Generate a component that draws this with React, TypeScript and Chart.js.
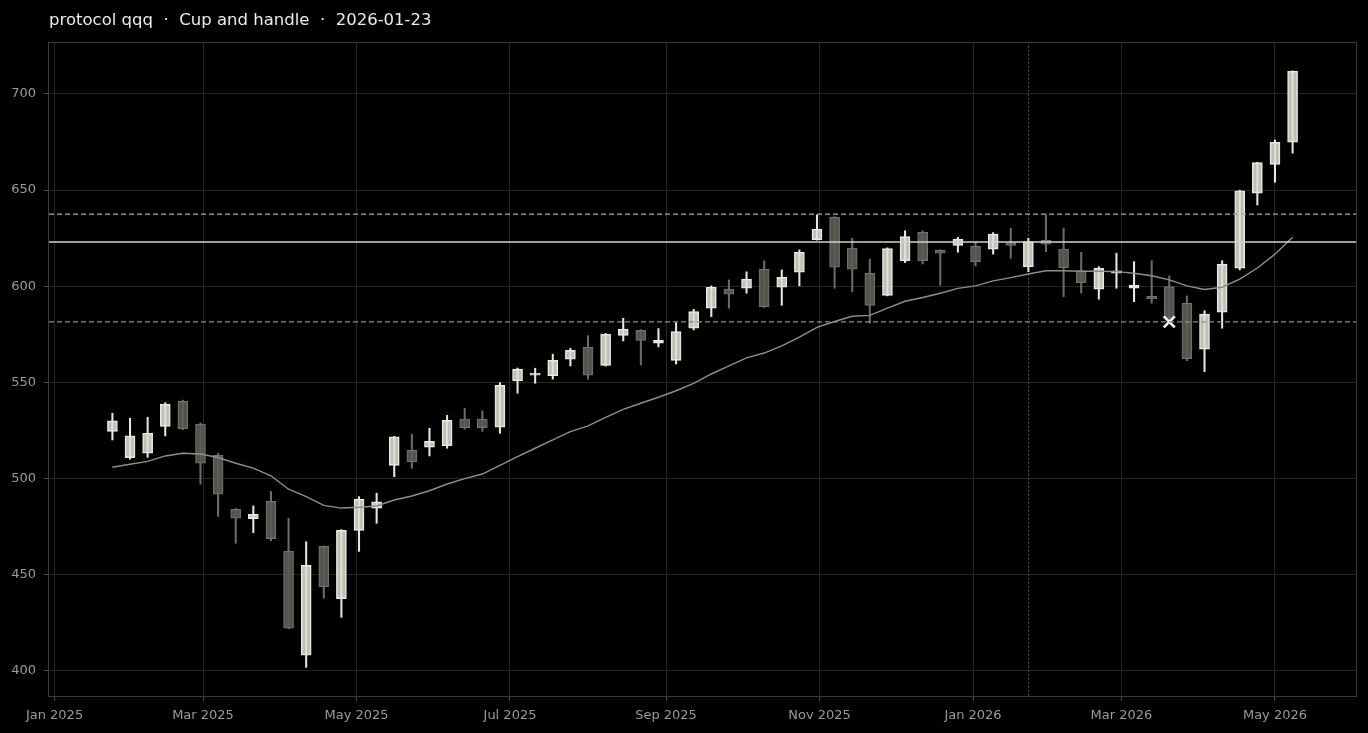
import { useEffect, useRef } from "react";
import { Chart, registerables } from "chart.js";

Chart.register(...registerables);

const title = "protocol qqq  ·  Cup and handle  ·  2026-01-23";

// weekly candles (Fridays)
const dates = [
  "2025-01-24", "2025-01-31", "2025-02-07", "2025-02-14", "2025-02-21", "2025-02-28",
  "2025-03-07", "2025-03-14", "2025-03-21", "2025-03-28", "2025-04-04", "2025-04-11",
  "2025-04-18", "2025-04-25", "2025-05-02", "2025-05-09", "2025-05-16", "2025-05-23",
  "2025-05-30", "2025-06-06", "2025-06-13", "2025-06-20", "2025-06-27", "2025-07-04",
  "2025-07-11", "2025-07-18", "2025-07-25", "2025-08-01", "2025-08-08", "2025-08-15",
  "2025-08-22", "2025-08-29", "2025-09-05", "2025-09-12", "2025-09-19", "2025-09-26",
  "2025-10-03", "2025-10-10", "2025-10-17", "2025-10-24", "2025-10-31", "2025-11-07",
  "2025-11-14", "2025-11-21", "2025-11-28", "2025-12-05", "2025-12-12", "2025-12-19",
  "2025-12-26", "2026-01-02", "2026-01-09", "2026-01-16", "2026-01-23", "2026-01-30",
  "2026-02-06", "2026-02-13", "2026-02-20", "2026-02-27", "2026-03-06", "2026-03-13",
  "2026-03-20", "2026-03-27", "2026-04-03", "2026-04-10", "2026-04-17", "2026-04-24",
  "2026-05-01", "2026-05-08",
];

const opens = [
  524.6, 510.9, 513.2, 527.2, 540.2, 528.4, 512.1, 484.1, 479.2, 488.2, 462.2, 408.2,
  464.8, 437.6, 473.1, 484.7, 506.9, 514.7, 516.3, 517.1, 530.9, 530.9, 526.7, 550.9,
  553.8, 553.5, 562.1, 568.3, 558.9, 574.5, 577.1, 570.4, 561.5, 578.2, 588.6, 598.5,
  599.0, 608.9, 599.5, 607.3, 624.2, 635.9, 619.8, 606.8, 595.3, 613.3, 628.1, 618.7,
  621.3, 620.8, 619.3, 622.7, 610.2, 623.9, 619.3, 608.1, 598.5, 606.8, 599.0, 594.8,
  599.8, 591.2, 567.3, 586.5, 609.4, 648.4, 663.4, 674.9,
];
const highs = [
  534.0, 531.4, 531.9, 539.5, 540.8, 529.0, 513.2, 484.5, 485.8, 493.4, 479.4, 467.2,
  465.0, 473.5, 490.6, 492.4, 522.0, 523.1, 526.2, 532.9, 536.6, 535.3, 549.9, 557.5,
  557.4, 564.7, 567.8, 574.3, 575.5, 583.4, 577.5, 578.0, 581.1, 588.0, 600.2, 603.3,
  607.5, 613.2, 608.5, 618.9, 637.1, 636.2, 625.0, 614.1, 620.0, 628.9, 628.9, 619.0,
  625.5, 622.7, 627.9, 630.2, 625.0, 637.1, 630.2, 617.7, 610.2, 617.2, 612.8, 613.3,
  605.4, 595.0, 587.3, 613.3, 650.0, 664.5, 676.1, 712.0,
];
const lows = [
  520.1, 510.1, 511.1, 522.2, 525.5, 497.1, 480.4, 466.4, 471.9, 467.7, 422.0, 401.9,
  437.8, 427.9, 462.2, 476.8, 501.0, 505.4, 511.8, 515.8, 525.7, 524.6, 523.6, 544.4,
  549.6, 551.7, 558.6, 551.7, 558.5, 571.6, 559.1, 568.5, 559.6, 577.3, 584.2, 588.6,
  596.4, 589.0, 590.1, 600.2, 624.0, 599.0, 597.2, 580.8, 595.0, 612.3, 611.6, 600.5,
  617.7, 610.6, 616.7, 614.6, 607.6, 618.0, 594.6, 596.4, 593.3, 599.0, 592.0, 591.2,
  581.5, 561.3, 555.6, 578.2, 608.5, 642.3, 654.1, 669.2,
];
const closes = [
  530.1, 522.3, 523.6, 538.7, 526.0, 508.0, 491.9, 479.4, 481.5, 468.8, 422.2, 454.9,
  443.8, 473.1, 489.3, 488.0, 521.8, 508.8, 519.4, 530.3, 526.5, 526.5, 548.5, 556.9,
  554.8, 561.5, 566.7, 553.8, 575.1, 577.7, 571.9, 571.9, 576.4, 586.8, 599.5, 595.9,
  603.7, 589.4, 604.7, 617.7, 629.7, 609.9, 608.9, 590.1, 619.6, 625.8, 613.3, 617.2,
  624.5, 612.8, 627.2, 621.3, 623.2, 621.9, 609.7, 601.9, 609.4, 608.0, 600.5, 593.6,
  583.4, 562.4, 585.5, 611.5, 649.6, 664.3, 674.9, 711.8,
];
const movingAvg = [
  505.9, 507.5, 509.0, 511.8, 513.2, 512.8, 511.0, 508.0, 505.5, 501.5, 494.5, 490.6,
  486.1, 484.7, 485.1, 485.8, 488.9, 491.0, 493.7, 497.2, 500.0, 502.4, 506.9, 511.4,
  515.8, 520.1, 524.4, 527.4, 531.9, 536.0, 539.2, 542.3, 545.7, 549.5, 554.4, 558.6,
  562.8, 565.3, 569.0, 573.6, 578.6, 581.7, 584.4, 584.9, 588.6, 592.2, 594.2, 596.4,
  598.9, 600.2, 602.8, 604.5, 606.4, 608.1, 608.1, 607.8, 607.8, 607.6, 606.8, 605.5,
  603.3, 600.2, 598.3, 599.5, 603.7, 609.5, 616.7, 625.5,
];

// horizontal levels: upper band, handle rim, lower band
const upperBand = 637.5;
const rimLevel = 623.0;
const lowerBand = 581.5;

const eventDate = "2026-01-23";
const markerDate = "2026-03-20";
const markerValue = 581.5;

const monthTicks = [
  "2025-01-01", "2025-03-01", "2025-05-01", "2025-07-01", "2025-09-01",
  "2025-11-01", "2026-01-01", "2026-03-01", "2026-05-01",
];
const priceTicks = [400, 450, 500, 550, 600, 650, 700];

const MONTHS = ["Jan", "Feb", "Mar", "Apr", "May", "Jun", "Jul", "Aug", "Sep", "Oct", "Nov", "Dec"];
const BASE = Date.UTC(2025, 0, 1);
const dayOf = (s: string) => {
  const [y, m, d] = s.split("-").map(Number);
  return (Date.UTC(y, m - 1, d) - BASE) / 86400000;
};
const monthLabel = (s: string) => {
  const [y, m] = s.split("-").map(Number);
  return `${MONTHS[m - 1]} ${y}`;
};

const UP_FILL = "rgba(222,222,212,0.86)";
const UP_EDGE = "#ececE4";
const DOWN_FILL = "rgba(92,92,86,0.9)";
const DOWN_EDGE = "#72726b";
const UP_WICK = "#e6e6e2";
const DOWN_WICK = "#6c6c66";
const FONT = '"DejaVu Sans", sans-serif';

const overlay = {
  id: "overlay",
  beforeDatasetsDraw(chart: any) {
    const { ctx, chartArea, scales } = chart;
    const x = scales.x.getPixelForValue(dayOf(eventDate));
    ctx.save();
    ctx.strokeStyle = "#6a6a6a";
    ctx.lineWidth = 1;
    ctx.setLineDash([1.5, 2.5]);
    ctx.beginPath();
    ctx.moveTo(Math.round(x) + 0.5, chartArea.top);
    ctx.lineTo(Math.round(x) + 0.5, chartArea.bottom);
    ctx.stroke();
    ctx.restore();
  },
  afterDatasetsDraw(chart: any) {
    const { ctx, chartArea, scales } = chart;
    const line = (v: number, color: string, dash: number[], w: number) => {
      const y = scales.y.getPixelForValue(v);
      ctx.save();
      ctx.strokeStyle = color;
      ctx.lineWidth = w;
      ctx.setLineDash(dash);
      ctx.beginPath();
      ctx.moveTo(chartArea.left, y);
      ctx.lineTo(chartArea.right, y);
      ctx.stroke();
      ctx.restore();
    };
    line(upperBand, "#a6a6a6", [5, 3], 1.3);
    line(lowerBand, "#8a8a8a", [5, 3], 1.3);
    line(rimLevel, "#d2d2d2", [], 1.6);
  },
  afterDraw(chart: any) {
    const { ctx, chartArea } = chart;
    ctx.save();
    ctx.strokeStyle = "#3a3a3a";
    ctx.lineWidth = 1;
    ctx.strokeRect(
      Math.round(chartArea.left) - 0.5,
      Math.round(chartArea.top) + 0.5,
      Math.round(chartArea.right - chartArea.left) + 1,
      Math.round(chartArea.bottom - chartArea.top)
    );
    ctx.fillStyle = "#ececec";
    ctx.font = `16.5px ${FONT}`;
    ctx.textBaseline = "middle";
    ctx.textAlign = "left";
    ctx.fillText(title, 49, 21);
    ctx.restore();
  },
};

const CandleChart = () => {
  const canvasRef = useRef<HTMLCanvasElement>(null);

  useEffect(() => {
    const ctx = canvasRef.current!.getContext("2d")!;
    const xs = dates.map(dayOf);
    const isUp = (i: number) => closes[i] >= opens[i];

    const chart = new Chart(ctx, {
      type: "bar",
      data: {
        datasets: [
          {
            type: "scatter",
            label: "marker",
            data: [{ x: dayOf(markerDate), y: markerValue }],
            pointStyle: "crossRot",
            radius: 7.8,
            borderColor: "#f4f4f4",
            borderWidth: 2.6,
            order: 0,
          } as any,
          {
            type: "line",
            label: "ma",
            data: xs.map((x, i) => ({ x, y: movingAvg[i] })),
            borderColor: "#8e8e8e",
            borderWidth: 1.4,
            pointRadius: 0,
            tension: 0,
            order: 1,
          } as any,
          {
            label: "body",
            data: xs.map((x, i) => ({ x, y: [opens[i], closes[i]] })),
            backgroundColor: (c: any) => (isUp(c.dataIndex) ? UP_FILL : DOWN_FILL),
            borderColor: (c: any) => (isUp(c.dataIndex) ? UP_EDGE : DOWN_EDGE),
            borderWidth: 1,
            borderSkipped: false,
            barThickness: 10,
            grouped: false,
            order: 2,
          } as any,
          {
            label: "wick",
            data: xs.map((x, i) => ({ x, y: [lows[i], highs[i]] })),
            backgroundColor: (c: any) => (isUp(c.dataIndex) ? UP_WICK : DOWN_WICK),
            borderWidth: 0,
            barThickness: 1.4,
            grouped: false,
            order: 3,
          } as any,
        ],
      },
      options: {
        responsive: true,
        maintainAspectRatio: false,
        animation: false,
        layout: { padding: { top: 42, right: 12, left: 0, bottom: 0 } },
        plugins: {
          legend: { display: false },
          tooltip: { enabled: false },
          title: { display: false },
        },
        scales: {
          x: {
            type: "linear",
            min: -2.2,
            max: 517.2,
            offset: false,
            z: 1,
            afterBuildTicks: (scale: any) => {
              scale.ticks = monthTicks.map((s) => ({ value: dayOf(s) }));
            },
            afterFit: (scale: any) => {
              scale.height = 37;
            },
            grid: {
              offset: false,
              color: "#262626",
              tickColor: "#4a4a4a",
              tickLength: 5,
              lineWidth: 1,
            },
            border: { display: false },
            ticks: {
              autoSkip: false,
              maxRotation: 0,
              padding: 7,
              color: "#9a9a9a",
              font: { family: FONT, size: 13 },
              callback: (v: any) => {
                const i = monthTicks.findIndex((s) => dayOf(s) === v);
                return i >= 0 ? monthLabel(monthTicks[i]) : "";
              },
            },
          },
          y: {
            type: "linear",
            min: 387,
            max: 727,
            z: 1,
            afterBuildTicks: (scale: any) => {
              scale.ticks = priceTicks.map((v) => ({ value: v }));
            },
            afterFit: (scale: any) => {
              scale.width = 49;
            },
            grid: { color: "#262626", tickColor: "#4a4a4a", tickLength: 5, lineWidth: 1 },
            border: { display: false },
            ticks: {
              padding: 8,
              color: "#9a9a9a",
              font: { family: FONT, size: 13 },
              callback: (v: any) => String(v),
            },
          },
        },
      },
      plugins: [overlay],
    });

    return () => {
      chart.destroy();
    };
  }, []);

  return <canvas ref={canvasRef} />;
};

export default function App() {
  return (
    <div
      style={{
        position: "fixed",
        left: 0,
        top: 0,
        width: 1368,
        height: 733,
        background: "#000",
      }}
    >
      <CandleChart />
    </div>
  );
}
